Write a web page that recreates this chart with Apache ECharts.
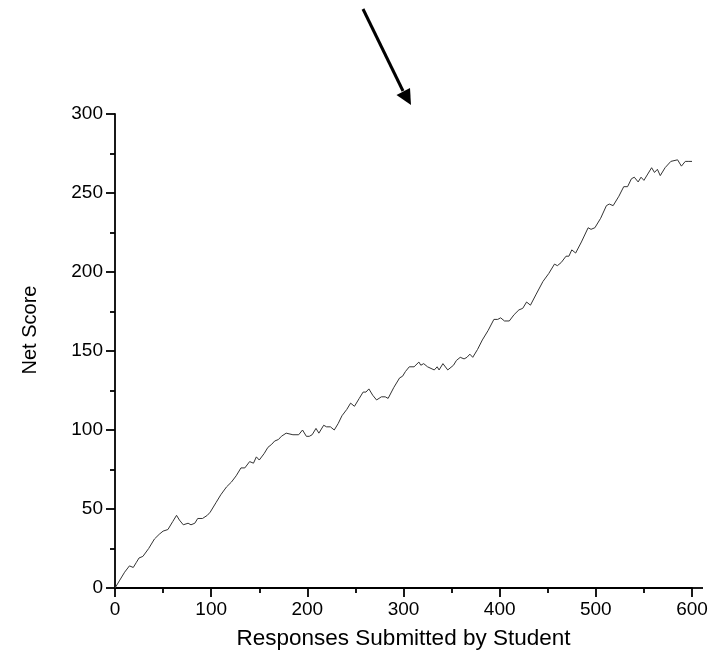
<!DOCTYPE html>
<html>
<head>
<meta charset="utf-8">
<script src="https://cdn.jsdelivr.net/npm/echarts@6/dist/echarts.min.js"></script>
<style>
  html, body { margin: 0; padding: 0; background: #fff; }
  #main { width: 713px; height: 661px; }
</style>
</head>
<body>
<div id="main"></div>
<script>
// responses submitted (x) and net score (y)
var responses = [0, 5, 10, 15, 19, 22, 25, 29, 35, 41, 46, 50, 55, 60, 64, 67, 71, 76, 79, 83,
  86, 91, 96, 99, 105, 110, 116, 121, 126, 131, 135, 140, 144, 147, 150, 155, 159, 163, 166, 170,
  173, 178, 180, 185, 191, 195, 199, 202, 205, 209, 212, 217, 220, 224, 228, 232, 236, 241, 245, 249,
  254, 258, 261, 264, 268, 272, 277, 281, 284, 290, 296, 299, 302, 306, 311, 316, 318, 321, 325, 327,
  332, 335, 337, 341, 346, 348, 352, 355, 359, 363, 366, 369, 372, 377, 382, 388, 394, 398, 401, 405,
  410, 415, 420, 424, 428, 432, 438, 445, 451, 457, 460, 464, 469, 472, 475, 479, 485, 492, 495, 499,
  505, 511, 514, 518, 524, 529, 533, 537, 540, 544, 547, 550, 554, 558, 561, 564, 567, 572, 578, 580,
  585, 589, 593, 596, 598, 600];
var scores = [0, 5, 10, 14, 13, 16, 19, 20, 25, 31, 34, 36, 37, 42, 46, 43, 40, 41, 40, 41,
  44, 44, 46, 48, 54, 59, 64, 67, 71, 76, 76, 80, 79, 83, 81, 85, 89, 91, 93, 94,
  96, 98, 97, 97, 97, 100, 96, 96, 97, 101, 98, 103, 102, 102, 100, 104, 109, 113, 117, 115,
  120, 124, 124, 126, 122, 119, 121, 121, 120, 127, 133, 134, 137, 140, 140, 143, 141, 142, 140, 141,
  138, 140, 138, 142, 138, 138, 141, 144, 146, 145, 146, 148, 146, 151, 157, 163, 170, 170, 171, 169,
  169, 173, 176, 177, 181, 179, 186, 194, 199, 205, 204, 206, 210, 210, 214, 212, 219, 228, 227, 228,
  234, 242, 243, 242, 248, 254, 254, 259, 260, 257, 260, 258, 262, 266, 263, 265, 261, 266, 270, 269,
  271, 267, 270, 270, 271, 270];
var xTicks = [0, 100, 200, 300, 400, 500, 600];
var yTicks = [0, 50, 100, 150, 200, 250, 300];

var points = [];
for (var i = 0; i < responses.length; i++) {
  points.push([responses[i], scores[i]]);
}

var myChart = echarts.init(document.getElementById('main'));
var font = '"Liberation Sans", Arial, sans-serif';

var option = {
  animation: false,
  backgroundColor: '#fff',
  grid: { left: 115, right: 21, top: 114, bottom: 73 },
  xAxis: {
    type: 'value',
    min: xTicks[0],
    max: xTicks[xTicks.length - 1],
    interval: 100,
    name: 'Responses Submitted by Student',
    nameLocation: 'middle',
    nameGap: 39,
    nameTextStyle: { fontFamily: font, fontSize: 22.5, color: '#000' },
    axisLine: { onZero: false, lineStyle: { color: '#000', width: 1.8 } },
    axisTick: { length: 9, lineStyle: { color: '#000', width: 1.8 } },
    minorTick: { show: true, splitNumber: 2, length: 5, lineStyle: { color: '#000', width: 1.8 } },
    axisLabel: { margin: 12, fontFamily: font, fontSize: 19, color: '#000' },
    splitLine: { show: false }
  },
  yAxis: {
    type: 'value',
    min: yTicks[0],
    max: yTicks[yTicks.length - 1],
    interval: 50,
    axisLine: { show: true, onZero: false, lineStyle: { color: '#000', width: 1.8 } },
    axisTick: { show: true, length: 9, lineStyle: { color: '#000', width: 1.8 } },
    minorTick: { show: true, splitNumber: 2, length: 5, lineStyle: { color: '#000', width: 1.8 } },
    axisLabel: { margin: 12, fontFamily: font, fontSize: 19, color: '#000' },
    splitLine: { show: false }
  },
  graphic: [
    // axis line runs a little past the last tick
    { type: 'line', shape: { x1: 692, y1: 588, x2: 703, y2: 588 }, style: { stroke: '#000', lineWidth: 1.8 } },
    {
      type: 'text', x: 30, y: 330, rotation: Math.PI / 2,
      style: { text: 'Net Score', font: '20px ' + font, fill: '#000', textAlign: 'center', textVerticalAlign: 'middle' }
    },
    // arrow at top
    { type: 'line', shape: { x1: 363, y1: 9, x2: 403, y2: 91 }, style: { stroke: '#000', lineWidth: 3 } },
    { type: 'polygon', shape: { points: [[411, 105], [396.5, 95], [410, 88]] }, style: { fill: '#000' } }
  ],
  series: [{
    type: 'line',
    data: points,
    symbol: 'none',
    lineStyle: { color: '#333', width: 1 }
  }]
};
myChart.setOption(option);
</script>
</body>
</html>
